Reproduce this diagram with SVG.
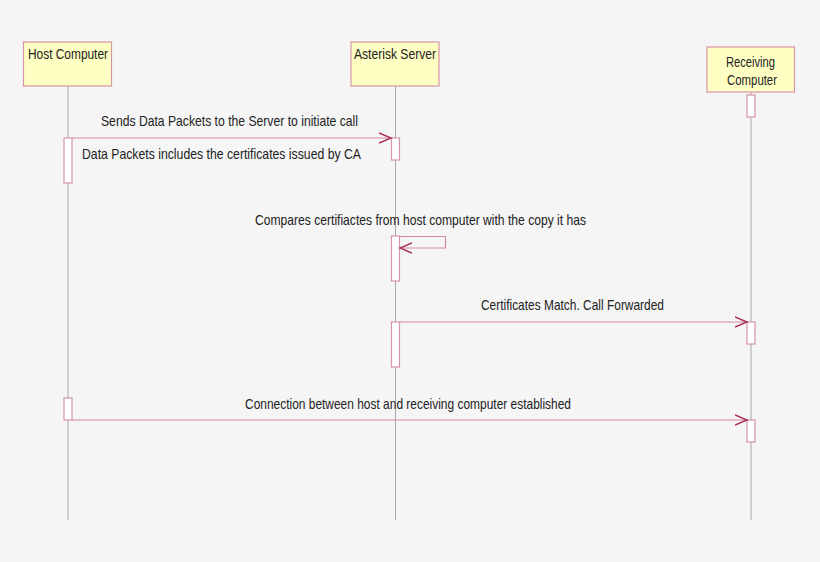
<svg xmlns="http://www.w3.org/2000/svg" width="820" height="562" viewBox="0 0 820 562">
<defs>
<style>
.bg{fill:#f5f5f5}
.box{fill:#ffffc4;stroke:#d895a8;stroke-width:1.2}
.act{fill:#ffffff;stroke:#d895a8;stroke-width:1.2}
.life{stroke:#a8a8a8;stroke-width:1;fill:none}
.msg{stroke:#d68aa2;stroke-width:1.2;fill:none}
.head{stroke:#a8305c;stroke-width:1.4;fill:none}
text{font-family:"Liberation Sans",Arial,sans-serif;font-size:15px;fill:#222222}
</style>
<marker id="arr" markerWidth="14" markerHeight="12" refX="12" refY="6" orient="auto" markerUnits="userSpaceOnUse">
<path d="M0,1 L12,6 L0,11" class="head"/>
</marker>
</defs>
<rect class="bg" x="0" y="0" width="820" height="562"/>
<g id="lifelines">
<line class="life" x1="68" y1="86" x2="68" y2="520"/>
<line class="life" x1="395.5" y1="86" x2="395.5" y2="520"/>
<line class="life" x1="751" y1="92" x2="751" y2="520"/>
</g>
<g id="host">
<rect class="box" x="23.5" y="42" width="88" height="44"/>
<text x="28" y="59" textLength="80" lengthAdjust="spacingAndGlyphs">Host Computer</text>
<rect class="act" x="64" y="138" width="8" height="45"/>
<rect class="act" x="64" y="398" width="8" height="22"/>
</g>
<g id="server">
<rect class="box" x="351" y="42" width="88" height="44"/>
<text x="354" y="59" textLength="82" lengthAdjust="spacingAndGlyphs">Asterisk Server</text>
<rect class="act" x="391.5" y="138" width="8" height="22"/>
<rect class="act" x="391.5" y="236" width="8" height="45"/>
<rect class="act" x="391.5" y="322" width="8" height="45"/>
</g>
<g id="receiver">
<rect class="box" x="707" y="47" width="87.5" height="45"/>
<text x="726" y="67" textLength="49" lengthAdjust="spacingAndGlyphs">Receiving</text>
<text x="727" y="85" textLength="50" lengthAdjust="spacingAndGlyphs">Computer</text>
<rect class="act" x="747" y="95" width="8" height="22"/>
<rect class="act" x="747" y="322" width="8" height="22"/>
<rect class="act" x="747" y="420" width="8" height="22"/>
</g>
<g id="connectors">
<line class="msg" x1="72" y1="138" x2="391" y2="138" marker-end="url(#arr)"/>
<polyline class="msg" points="399.5,236.5 445.5,236.5 445.5,248 400,248" marker-end="url(#arr)"/>
<line class="msg" x1="399.5" y1="322" x2="747" y2="322" marker-end="url(#arr)"/>
<line class="msg" x1="72" y1="420" x2="747" y2="420" marker-end="url(#arr)"/>
</g>
<g id="labels">
<text x="101" y="126" textLength="257" lengthAdjust="spacingAndGlyphs">Sends Data Packets to the Server to initiate call</text>
<text x="82" y="159" textLength="279" lengthAdjust="spacingAndGlyphs">Data Packets includes the certificates issued by CA</text>
<text x="255" y="225" textLength="331" lengthAdjust="spacingAndGlyphs">Compares certifiactes from host computer with the copy it has</text>
<text x="481" y="310" textLength="183" lengthAdjust="spacingAndGlyphs">Certificates Match. Call Forwarded</text>
<text x="245" y="409" textLength="326" lengthAdjust="spacingAndGlyphs">Connection between host and receiving computer established</text>
</g>
</svg>
